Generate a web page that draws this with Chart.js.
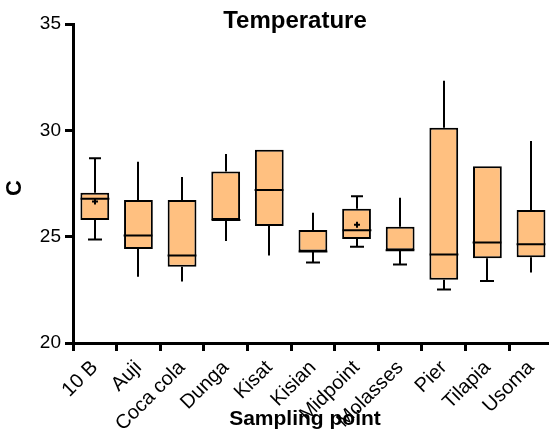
<!DOCTYPE html>
<html>
<head>
<meta charset="utf-8">
<script src="https://cdn.jsdelivr.net/npm/chart.js@4"></script>
<style>
html, body { margin: 0; padding: 0; background: #fff; }
#wrap { width: 553px; height: 435px; }
</style>
</head>
<body>
<div id="wrap"><canvas id="boxChart"></canvas></div>
<script>
// box plot values (degrees C)
var sites = ["10 B", "Auji", "Coca cola", "Dunga", "Kisat", "Kisian", "Midpoint", "Molasses", "Pier", "Tilapia", "Usoma"];
var tempMin = [24.87, 23.12, 22.89, 24.8, 24.12, 23.78, 24.52, 23.69, 22.52, 22.92, 23.31];
var tempQ1 = [25.78, 24.42, 23.58, 25.78, 25.5, 24.3, 24.89, 24.36, 22.97, 23.98, 24.03];
var tempMedian = [26.78, 25.06, 24.12, 25.78, 27.2, 24.3, 25.3, 24.36, 24.16, 24.72, 24.64];
var tempQ3 = [27.06, 26.73, 26.72, 28.06, 29.09, 25.31, 26.31, 25.47, 30.12, 28.31, 26.25];
var tempMax = [28.69, 28.52, 27.81, 28.89, 29.09, 26.12, 26.9, 26.83, 32.33, 28.31, 29.5];
var tempMean = [26.65, null, null, null, null, null, 25.56, null, null, null, null];
var yTicks = [20, 25, 30, 35];

// which whisker ends get a cap in the original
var capTop = [true, false, false, false, false, false, true, false, false, false, false];
var capBottom = [true, false, false, false, false, true, true, true, true, true, false];

var font = "'Liberation Sans', Arial, sans-serif";

var boxExtras = {
    id: 'boxExtras',
    afterDatasetsDraw: function (chart) {
        var ctx = chart.ctx;
        var ys = chart.scales.y;
        var meta = chart.getDatasetMeta(0);
        ctx.save();
        ctx.strokeStyle = '#000';
        ctx.lineWidth = 2;
        sites.forEach(function (s, i) {
            var bar = meta.data[i];
            var x = Math.round(bar.x);
            var half = bar.width / 2;
            var yMax = ys.getPixelForValue(tempMax[i]);
            var yMin = ys.getPixelForValue(tempMin[i]);
            var yQ1 = ys.getPixelForValue(tempQ1[i]);
            var yQ3 = ys.getPixelForValue(tempQ3[i]);
            var yMed = ys.getPixelForValue(tempMedian[i]);
            ctx.beginPath();
            ctx.moveTo(x, yQ3); ctx.lineTo(x, yMax);
            ctx.moveTo(x, yQ1); ctx.lineTo(x, yMin);
            if (capTop[i]) { ctx.moveTo(x - 6, yMax); ctx.lineTo(x + 6, yMax); }
            if (capBottom[i]) { ctx.moveTo(x - 7, yMin); ctx.lineTo(x + 7, yMin); }
            ctx.moveTo(x - half, yMed); ctx.lineTo(x + half, yMed);
            ctx.stroke();
            if (tempMean[i] !== null) {
                var ym = ys.getPixelForValue(tempMean[i]);
                ctx.beginPath();
                ctx.moveTo(x - 3, ym); ctx.lineTo(x + 3, ym);
                ctx.moveTo(x, ym - 3); ctx.lineTo(x, ym + 3);
                ctx.stroke();
            }
        });
        ctx.restore();
    },
    afterDraw: function (chart) {
        var ctx = chart.ctx;
        ctx.save();
        ctx.fillStyle = '#000';
        ctx.textAlign = 'center';
        ctx.textBaseline = 'middle';
        ctx.font = "bold 24px " + font;
        ctx.fillText('Temperature', 295, 21);
        ctx.font = "bold 21px " + font;
        ctx.fillText('Sampling point', 305, 419);
        ctx.translate(15, 188);
        ctx.rotate(-Math.PI / 2);
        ctx.font = "bold 22px " + font;
        ctx.fillText('C', 0, 0);
        ctx.restore();
    }
};

new Chart(document.getElementById('boxChart'), {
    type: 'bar',
    data: {
        datasets: [{
            data: sites.map(function (s, i) { return { x: i, y: [tempQ1[i], tempQ3[i]] }; }),
            backgroundColor: '#FFC080',
            borderColor: '#000',
            borderWidth: 2,
            borderSkipped: false,
            barPercentage: 1,
            categoryPercentage: 0.66
        }]
    },
    options: {
        responsive: true,
        maintainAspectRatio: false,
        animation: false,
        layout: { padding: { top: 24, right: 0, bottom: 0, left: 0 } },
        plugins: {
            legend: { display: false },
            tooltip: { enabled: false }
        },
        scales: {
            x: {
                type: 'linear',
                offset: false,
                min: -0.5,
                max: 10.41,
                afterBuildTicks: function (axis) {
                    axis.ticks = sites.map(function (s, i) { return { value: i }; });
                },
                afterFit: function (scale) { scale.height = 92; },
                ticks: {
                    autoSkip: false,
                    maxRotation: 45,
                    minRotation: 45,
                    padding: 5,
                    color: '#000',
                    font: { family: font, size: 20 },
                    callback: function (v) { return sites[v]; }
                },
                grid: { drawOnChartArea: false, drawTicks: true, tickLength: 8, tickWidth: 3, tickColor: '#000' },
                border: { color: '#000', width: 3 }
            },
            y: {
                min: 20,
                max: 35,
                afterBuildTicks: function (axis) {
                    axis.ticks = yTicks.map(function (v) { return { value: v }; });
                },
                afterFit: function (scale) { scale.width = 73; },
                ticks: {
                    padding: 4,
                    color: '#000',
                    font: { family: font, size: 19 }
                },
                grid: { drawOnChartArea: false, drawTicks: true, tickLength: 8, tickWidth: 3, tickColor: '#000' },
                border: { color: '#000', width: 3 }
            }
        }
    },
    plugins: [boxExtras]
});
</script>
</body>
</html>
